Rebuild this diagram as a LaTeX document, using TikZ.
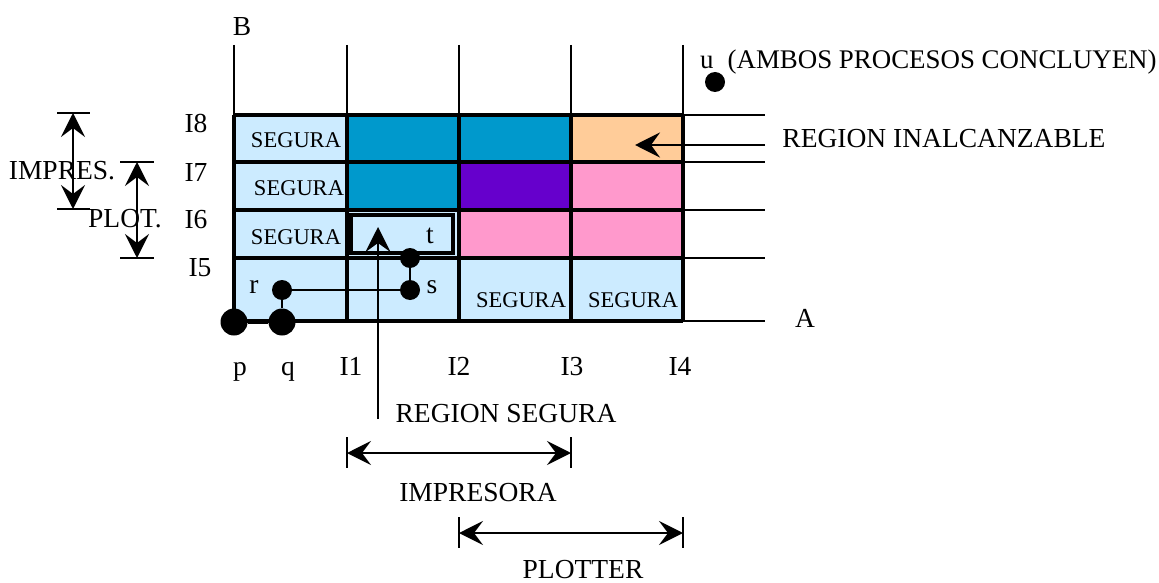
\documentclass[tikz,border=0pt]{standalone}
\usepackage{fontspec}
\setmainfont{Liberation Serif}
\usetikzlibrary{arrows.meta}
\definecolor{lb}{HTML}{CCEBFF}
\definecolor{db}{HTML}{0099CC}
\definecolor{pe}{HTML}{FFCC99}
\definecolor{pu}{HTML}{6600CC}
\definecolor{pk}{HTML}{FF99CC}
\begin{document}
\begin{tikzpicture}[x=1pt,y=-1pt,
  lbl/.style={font=\fontsize{27.5}{32}\selectfont, inner sep=0pt},
  seg/.style={font=\fontsize{22.5}{26}\selectfont, inner sep=0pt},
  grid/.style={line width=3.5pt},
  thin/.style={line width=2.2pt},
  arr/.style={line width=2.2pt, -{Stealth[length=25pt,width=25pt,inset=9pt]}},
  darr/.style={line width=2.2pt, {Stealth[length=24pt,width=24pt,inset=9pt]}-{Stealth[length=24pt,width=24pt,inset=9pt]}},
  bar/.style={line width=2.2pt},
  bigdot/.style={circle, fill=black, minimum size=27pt, inner sep=0pt},
  smalldot/.style={circle, fill=black, minimum size=20pt, inner sep=0pt}]
\useasboundingbox (0,0) rectangle (1159,583);
% cell fills
\fill[lb] (234,115) rectangle (347,162);
\fill[db] (347,115) rectangle (459,162);
\fill[db] (459,115) rectangle (571,162);
\fill[pe] (571,115) rectangle (683,162);
\fill[lb] (234,162) rectangle (347,210);
\fill[db] (347,162) rectangle (459,210);
\fill[pu] (459,162) rectangle (571,210);
\fill[pk] (571,162) rectangle (683,210);
\fill[lb] (234,210) rectangle (347,258);
\fill[lb] (347,210) rectangle (459,258);
\fill[pk] (459,210) rectangle (571,258);
\fill[pk] (571,210) rectangle (683,258);
\fill[lb] (234,258) rectangle (683,321);
% vertical lines above grid
\foreach \x in {234,347,459,571,683} \draw[thin] (\x,45) -- (\x,115);
% grid
\foreach \y in {115,162,210,258,321} \draw[grid] (234,\y) -- (683,\y);
\foreach \y in {115,162,210,258,321} \draw[thin] (683,\y) -- (765,\y);
\foreach \x in {234,347,459,571,683} \draw[grid] (\x,115) -- (\x,321);
% thick cell t
\draw[line width=3.5pt] (351,215) rectangle (453,253);
% SEGURA labels
\node[seg] (s8) at (296,140) {SEGURA};
\node[seg] (s7) at (299,188) {SEGURA};
\node[seg] (s6) at (296,237) {SEGURA};
\node[seg] (s53) at (521,300) {SEGURA};
\node[seg] (s54) at (633,300) {SEGURA};
% axis labels
\node[lbl] (B) at (242,27) {B};
\node[lbl] (A) at (805,318) {A};
\node[lbl] (i8) at (196,123) {I8};
\node[lbl] (i7) at (196,172) {I7};
\node[lbl] (i6) at (196,220) {I6};
\node[lbl] (i5) at (200,268) {I5};
\node[lbl,anchor=base] (lp) at (240,375) {p};
\node[lbl,anchor=base] (lq) at (288,375) {q};
\node[lbl,anchor=base] (i1) at (351,375) {I1};
\node[lbl,anchor=base] (i2) at (459,375) {I2};
\node[lbl,anchor=base] (i3) at (572,375) {I3};
\node[lbl,anchor=base] (i4) at (680,375) {I4};
\node[lbl,anchor=base] (lr) at (254,293) {r};
\node[lbl,anchor=base] (ls) at (432,293) {s};
\node[lbl,anchor=base] (lt) at (430,243) {t};
\node[lbl,anchor=base west,font=\fontsize{26.9}{32}\selectfont] (lu) at (700,69) {u\hspace{14pt}(AMBOS PROCESOS CONCLUYEN)};
% path points
\node[bigdot] (p) at (234,322) {};
\node[bigdot] (q) at (282,322) {};
\node[smalldot] (r) at (282,290) {};
\node[smalldot] (s) at (410,290) {};
\node[smalldot] (t) at (410,258) {};
\node[smalldot] (u) at (715,82) {};
\draw[line width=3.5pt] (p) -- (q);
\draw[thin] (q) -- (r);
\draw[thin] (r) -- (s);
\draw[thin] (s) -- (t);
% region segura
\node[lbl] (rs) at (506,414) {REGION SEGURA};
\coordinate (rsb) at (378,419);
\coordinate (rst) at (378,227);
\draw[arr] (rsb) -- (rst);
% region inalcanzable
\node[lbl] (ri) at (944,139) {REGION INALCANZABLE};
\coordinate (ris) at (765,145);
\coordinate (rie) at (635,145);
\draw[arr] (ris) -- (rie);
% left arrows
\node[lbl] (imp) at (62,171) {IMPRES.};
\coordinate (it) at (73,113);
\coordinate (ib) at (73,209);
\draw[bar] (57,113) -- (90,113);
\draw[bar] (57,209) -- (90,209);
\draw[darr] (ib) -- (it);
\node[lbl] (plo) at (125,219) {PLOT.};
\coordinate (pt) at (137,162);
\coordinate (pb) at (137,258);
\draw[bar] (120,162) -- (154,162);
\draw[bar] (120,258) -- (154,258);
\draw[darr] (pb) -- (pt);
% bottom arrows
\coordinate (al) at (347,453);
\coordinate (ar) at (571,453);
\draw[bar] (347,437) -- (347,468);
\draw[bar] (571,437) -- (571,468);
\draw[darr] (al) -- (ar);
\node[lbl] (impr) at (478,493) {IMPRESORA};
\coordinate (bl) at (459,533);
\coordinate (br) at (683,533);
\draw[bar] (459,517) -- (459,548);
\draw[bar] (683,517) -- (683,548);
\draw[darr] (bl) -- (br);
\node[lbl] (plt) at (583,570) {PLOTTER};
\end{tikzpicture}
\end{document}
